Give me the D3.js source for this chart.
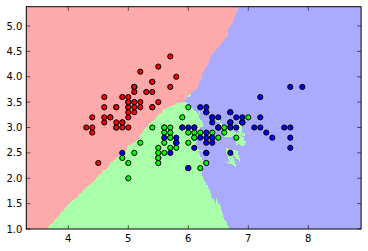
<!DOCTYPE html>
<html>
<head>
<meta charset="utf-8">
<script src="https://cdn.jsdelivr.net/npm/d3@7"></script>
<style>
  body { margin: 0; background: #fff; }
  svg text { font-family: "DejaVu Sans", sans-serif; font-size: 10px; fill: #000; }
</style>
</head>
<body>
<svg id="chart" width="368" height="251"></svg>
<script>
// iris: sepal length / sepal width per class
const classNames = ["setosa", "versicolor", "virginica"];
const setosa = [
  [5.1,3.5],[4.9,3.0],[4.7,3.2],[4.6,3.1],[5.0,3.6],[5.4,3.9],[4.6,3.4],[5.0,3.4],[4.4,2.9],[4.9,3.1],
  [5.4,3.7],[4.8,3.4],[4.8,3.0],[4.3,3.0],[5.8,4.0],[5.7,4.4],[5.4,3.9],[5.1,3.5],[5.7,3.8],[5.1,3.8],
  [5.4,3.4],[5.1,3.7],[4.6,3.6],[5.1,3.3],[4.8,3.4],[5.0,3.0],[5.0,3.4],[5.2,3.5],[5.2,3.4],[4.7,3.2],
  [4.8,3.1],[5.4,3.4],[5.2,4.1],[5.5,4.2],[4.9,3.1],[5.0,3.2],[5.5,3.5],[4.9,3.6],[4.4,3.0],[5.1,3.4],
  [5.0,3.5],[4.5,2.3],[4.4,3.2],[5.0,3.5],[5.1,3.8],[4.8,3.0],[5.1,3.8],[4.6,3.2],[5.3,3.7],[5.0,3.3]
];
const versicolor = [
  [7.0,3.2],[6.4,3.2],[6.9,3.1],[5.5,2.3],[6.5,2.8],[5.7,2.8],[6.3,3.3],[4.9,2.4],[6.6,2.9],[5.2,2.7],
  [5.0,2.0],[5.9,3.0],[6.0,2.2],[6.1,2.9],[5.6,2.9],[6.7,3.1],[5.6,3.0],[5.8,2.7],[6.2,2.2],[5.6,2.5],
  [5.9,3.2],[6.1,2.8],[6.3,2.5],[6.1,2.8],[6.4,2.9],[6.6,3.0],[6.8,2.8],[6.7,3.0],[6.0,2.9],[5.7,2.6],
  [5.5,2.4],[5.5,2.4],[5.8,2.7],[6.0,2.7],[5.4,3.0],[6.0,3.4],[6.7,3.1],[6.3,2.3],[5.6,3.0],[5.5,2.5],
  [5.5,2.6],[6.1,3.0],[5.8,2.6],[5.0,2.3],[5.6,2.7],[5.7,3.0],[5.7,2.9],[6.2,2.9],[5.1,2.5],[5.7,2.8]
];
const virginica = [
  [6.3,3.3],[5.8,2.7],[7.1,3.0],[6.3,2.9],[6.5,3.0],[7.6,3.0],[4.9,2.5],[7.3,2.9],[6.7,2.5],[7.2,3.6],
  [6.5,3.2],[6.4,2.7],[6.8,3.0],[5.7,2.5],[5.8,2.8],[6.4,3.2],[6.5,3.0],[7.7,3.8],[7.7,2.6],[6.0,2.2],
  [6.9,3.2],[5.6,2.8],[7.7,2.8],[6.3,2.7],[6.7,3.3],[7.2,3.2],[6.2,2.8],[6.1,3.0],[6.4,2.8],[7.2,3.0],
  [7.4,2.8],[7.9,3.8],[6.4,2.8],[6.3,2.8],[6.1,2.6],[7.7,3.0],[6.3,3.4],[6.4,3.1],[6.0,3.0],[6.9,3.1],
  [6.7,3.1],[6.9,3.1],[5.8,2.7],[6.8,3.2],[6.7,3.3],[6.7,3.0],[6.3,2.5],[6.5,3.0],[6.2,3.4],[5.9,3.0]
];
const xTicks = [4, 5, 6, 7, 8];
const yTicks = [1.0, 1.5, 2.0, 2.5, 3.0, 3.5, 4.0, 4.5, 5.0];
const lightColors = ["#FFAAAA", "#AAFFAA", "#AAAAFF"];
const boldColors = ["#FF0000", "#00FF00", "#0000FF"];
const nNeighbors = 16; // fits the drawn boundaries best
const step = 0.02;

const points = [setosa, versicolor, virginica]
  .flatMap((arr, c) => arr.map(([x, y]) => ({x, y, c})));

// mesh like np.arange(min-1, max+1, h)
const xMin = d3.min(points, d => d.x) - 1, xMax = d3.max(points, d => d.x) + 1;
const yMin = d3.min(points, d => d.y) - 1, yMax = d3.max(points, d => d.y) + 1;
const xs = d3.range(Math.round((xMax - xMin) / step)).map(i => xMin + i * step);
const ys = d3.range(Math.round((yMax - yMin) / step)).map(i => yMin + i * step);

// k nearest neighbours, uniform vote (ties go to the lowest class)
function classify(px, py) {
  const d = points.map(p => ({c: p.c, d: Math.hypot(p.x - px, p.y - py)}));
  d.sort((a, b) => a.d - b.d);
  const votes = [0, 0, 0];
  d.slice(0, nNeighbors).forEach(n => votes[n.c] += 1);
  return votes.indexOf(d3.max(votes));
}

const margin = {left: 26.3, right: 368 - 361.1, top: 6.7, bottom: 251 - 229};
const width = 368, height = 251;
const x = d3.scaleLinear().domain([xs[0], xs[xs.length - 1]]).range([margin.left, width - margin.right]);
const y = d3.scaleLinear().domain([ys[0], ys[ys.length - 1]]).range([height - margin.bottom, margin.top]);

const svg = d3.select("#chart");

// background: row runs of the same predicted class
const cells = [];
for (let j = 0; j < ys.length - 1; j++) {
  let start = 0, cur = classify(xs[0], ys[j]);
  for (let i = 1; i <= xs.length - 1; i++) {
    const c = i < xs.length - 1 ? classify(xs[i], ys[j]) : -1;
    if (c !== cur) {
      cells.push({x0: xs[start], x1: xs[i], y0: ys[j], y1: ys[j + 1], c: cur});
      start = i; cur = c;
    }
  }
}
svg.append("g")
  .attr("shape-rendering", "crispEdges")
  .selectAll("rect")
  .data(cells)
  .enter()
  .append("rect")
  .attr("x", d => x(d.x0))
  .attr("y", d => y(d.y1))
  .attr("width", d => x(d.x1) - x(d.x0))
  .attr("height", d => y(d.y0) - y(d.y1))
  .attr("fill", d => lightColors[d.c]);

// training points
svg.append("g")
  .selectAll("circle")
  .data(points)
  .enter()
  .append("circle")
  .attr("cx", d => x(d.x))
  .attr("cy", d => y(d.y))
  .attr("r", 2.6)
  .attr("fill", d => boldColors[d.c])
  .attr("stroke", "#000")
  .attr("stroke-width", 1);

// ticks on all four sides, pointing inward
const x0 = margin.left, x1 = width - margin.right, y0 = height - margin.bottom, y1 = margin.top;
const tickG = svg.append("g").attr("stroke", "#000").attr("stroke-width", 0.6);
xTicks.forEach(t => {
  tickG.append("line").attr("x1", x(t)).attr("x2", x(t)).attr("y1", y0).attr("y2", y0 - 4);
  tickG.append("line").attr("x1", x(t)).attr("x2", x(t)).attr("y1", y1).attr("y2", y1 + 4);
});
yTicks.forEach(t => {
  tickG.append("line").attr("x1", x0).attr("x2", x0 + 4).attr("y1", y(t)).attr("y2", y(t));
  tickG.append("line").attr("x1", x1).attr("x2", x1 - 4).attr("y1", y(t)).attr("y2", y(t));
});

svg.append("g").selectAll("text")
  .data(xTicks)
  .enter()
  .append("text")
  .attr("x", d => x(d))
  .attr("y", y0 + 13)
  .attr("text-anchor", "middle")
  .text(d => d);

svg.append("g").selectAll("text")
  .data(yTicks)
  .enter()
  .append("text")
  .attr("x", x0 - 4)
  .attr("y", d => y(d) + 3.6)
  .attr("text-anchor", "end")
  .text(d => d.toFixed(1));

// frame
svg.append("rect")
  .attr("x", x0).attr("y", y1)
  .attr("width", x1 - x0).attr("height", y0 - y1)
  .attr("fill", "none")
  .attr("stroke", "#000")
  .attr("stroke-width", 1);
</script>
</body>
</html>
